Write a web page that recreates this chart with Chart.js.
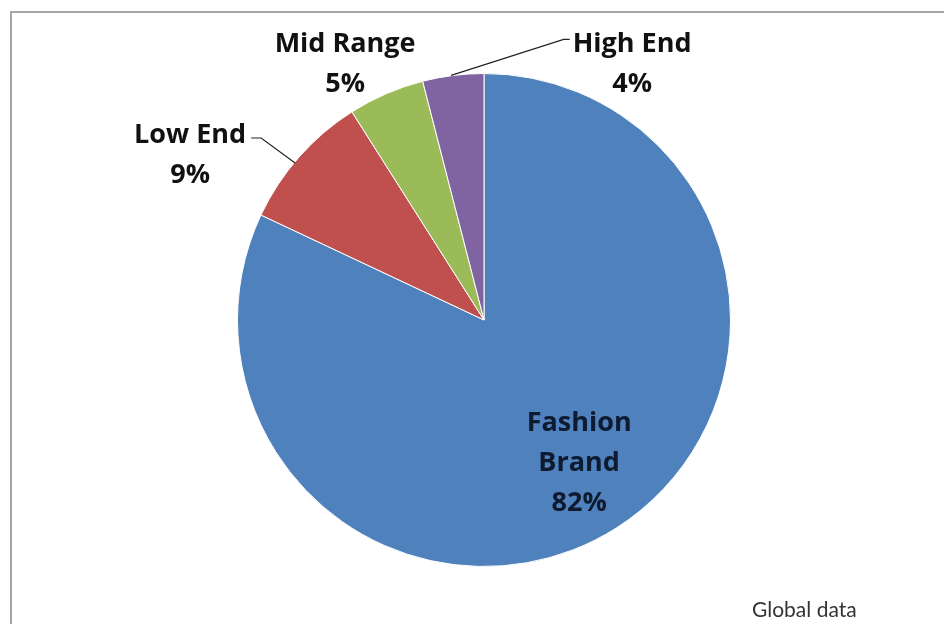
<!DOCTYPE html>
<html>
<head>
<meta charset="utf-8">
<script src="https://cdn.jsdelivr.net/npm/chart.js@4"></script>
<style>
  html, body { margin: 0; padding: 0; background: #fff; overflow: hidden; }
  #wrap { position: relative; width: 944px; height: 624px; }
  #frame { position: absolute; left: 10px; top: 11px; width: 1000px; height: 1000px;
           border: 2px solid #a6a6a6; box-sizing: border-box; }
  #note { position: absolute; left: 752px; top: 596px; font-family: "Lato", sans-serif;
          font-size: 21px; color: #333; }
  canvas { position: absolute; left: 0; top: 0; }
</style>
</head>
<body>
<div id="wrap">
  <div id="frame"></div>
  <canvas id="pie" width="944" height="624"></canvas>
  <div id="note">Global data</div>
</div>
<script>
// segment data
var segments = ["Fashion Brand", "Low End", "Mid Range", "High End"];
var shares = [82, 9, 5, 4];
var colours = ["#4f81bd", "#c0504d", "#9bbb59", "#8064a2"];

// where each label goes, relative to the outer middle of its slice
var labelPlace = [
    { inside: true, r: 0.69, lines: ["Fashion", "Brand"], color: "#0e1a30" },
    { dx: -109, dy: -2, lines: ["Low End"], leader: true, color: "#111" },
    { dx: -41, dy: -29, lines: ["Mid Range"], color: "#111" },
    { dx: 179, dy: -11, lines: ["High End"], leader: true, color: "#111" }
];

var labelPlugin = {
    id: "sliceLabels",
    afterDatasetsDraw: function(chart) {
        var ctx = chart.ctx;
        var meta = chart.getDatasetMeta(0);
        ctx.save();
        ctx.font = "bold 27px 'Open Sans', Lato, sans-serif";
        ctx.textAlign = "center";
        ctx.textBaseline = "middle";
        var lh = 40;
        meta.data.forEach(function(arc, i) {
            var p = arc.getProps(["x", "y", "startAngle", "endAngle", "outerRadius"], true);
            var mid = (p.startAngle + p.endAngle) / 2;
            var place = labelPlace[i];
            var lines = place.lines.concat([shares[i] + "%"]);
            var cx, cy;
            if (place.inside) {
                cx = p.x + Math.cos(mid) * p.outerRadius * place.r + 4;
                cy = p.y + Math.sin(mid) * p.outerRadius * place.r;
            } else {
                var ox = p.x + Math.cos(mid) * p.outerRadius;
                var oy = p.y + Math.sin(mid) * p.outerRadius;
                cx = ox + place.dx;
                cy = oy + place.dy;
                if (place.leader) {
                    var w = ctx.measureText(place.lines[0]).width;
                    var ty = cy - (lines.length - 1) * lh / 2 + 3;
                    ctx.strokeStyle = "#222";
                    ctx.lineWidth = 1.2;
                    ctx.beginPath();
                    if (place.dx < 0) {
                        ctx.moveTo(cx + w / 2 + 5, ty);
                        ctx.lineTo(cx + w / 2 + 15, ty);
                        ctx.lineTo(ox - 4, oy + 6);
                    } else {
                        ctx.moveTo(cx - w / 2 - 3, ty - 8);
                        ctx.lineTo(cx - w / 2 - 9, ty - 8);
                        ctx.lineTo(ox - 2, oy);
                    }
                    ctx.stroke();
                }
            }
            ctx.fillStyle = place.color;
            var y0 = cy - (lines.length - 1) * lh / 2;
            lines.forEach(function(t, k) {
                ctx.fillText(t, cx, y0 + k * lh);
            });
        });
        ctx.restore();
    }
};

var chart = new Chart(document.getElementById("pie"), {
    type: "pie",
    data: {
        labels: segments,
        datasets: [{
            data: shares,
            backgroundColor: colours,
            borderColor: "#ffffff",
            borderWidth: 1
        }]
    },
    options: {
        responsive: false,
        animation: false,
        layout: { padding: { top: 73, bottom: 57, left: 24, right: 0 } },
        plugins: {
            legend: { display: false },
            tooltip: { enabled: false }
        }
    },
    plugins: [labelPlugin]
});
</script>
</body>
</html>
